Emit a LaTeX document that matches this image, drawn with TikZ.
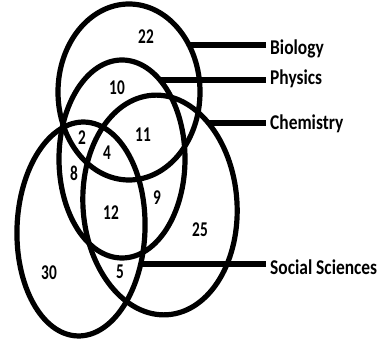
\documentclass[tikz,border=0pt]{standalone}
\usepackage{fontspec}
\newfontfamily\subjfont{Carlito}[FakeStretch=0.83]
\newfontfamily\numfont{Carlito}[FakeStretch=0.73]
\begin{document}
\begin{tikzpicture}[x=1pt, y=1pt,
    ring/.style={line width=5.2pt},
    leader/.style={line width=6pt},
    num/.style={inner sep=0pt, font=\numfont\bfseries\fontsize{21}{21}\selectfont},
    subj/.style={anchor=base west, inner xsep=4pt, inner ysep=0pt, font=\subjfont\bfseries\fontsize{21}{21}\selectfont}]
    \useasboundingbox (0,0) rectangle (380,339);
    % the four sets
    \draw[ring] (129,247) ellipse [x radius=71, y radius=88];
    \draw[ring] (122,180) ellipse [x radius=63, y radius=99];
    \draw[ring, rotate around={4:(160,134)}] (160,134) ellipse [x radius=77, y radius=110];
    \draw[ring, rotate around={-2:(81,110)}] (81,110) ellipse [x radius=64, y radius=107];
    % region counts
    \node[num] (bioOnly) at (146,302) {22};
    \node[num] (bioPhy) at (117,251) {10};
    \node[num] (bioPhyChem) at (143,204) {11};
    \node[num] (bioPhySoc) at (82,201) {2};
    \node[num] (all) at (107,186) {4};
    \node[num] (phySoc) at (74,166) {8};
    \node[num] (phyChemSoc) at (111,126) {12};
    \node[num] (phyChem) at (157,141) {9};
    \node[num] (chemOnly) at (200,109) {25};
    \node[num] (socOnly) at (49,66) {30};
    \node[num] (chemSoc) at (120,67) {5};
    % subject names and their leaders
    \node[subj] (bio) at (266,284) {Biology};
    \node[subj] (phy) at (266,254) {Physics};
    \node[subj] (chem) at (266,209) {Chemistry};
    \node[subj] (soc) at (266,64) {Social Sciences};
    \coordinate (bioE) at (189,294);
    \coordinate (phyE) at (160,259);
    \coordinate (chemE) at (209,215.5);
    \coordinate (socE) at (140,75);
    \draw[leader] (bioE) -- (bioE -| bio.west);
    \draw[leader] (phyE) -- (phyE -| phy.west);
    \draw[leader] (chemE) -- (chemE -| chem.west);
    \draw[leader] (socE) -- (socE -| soc.west);
\end{tikzpicture}
\end{document}
